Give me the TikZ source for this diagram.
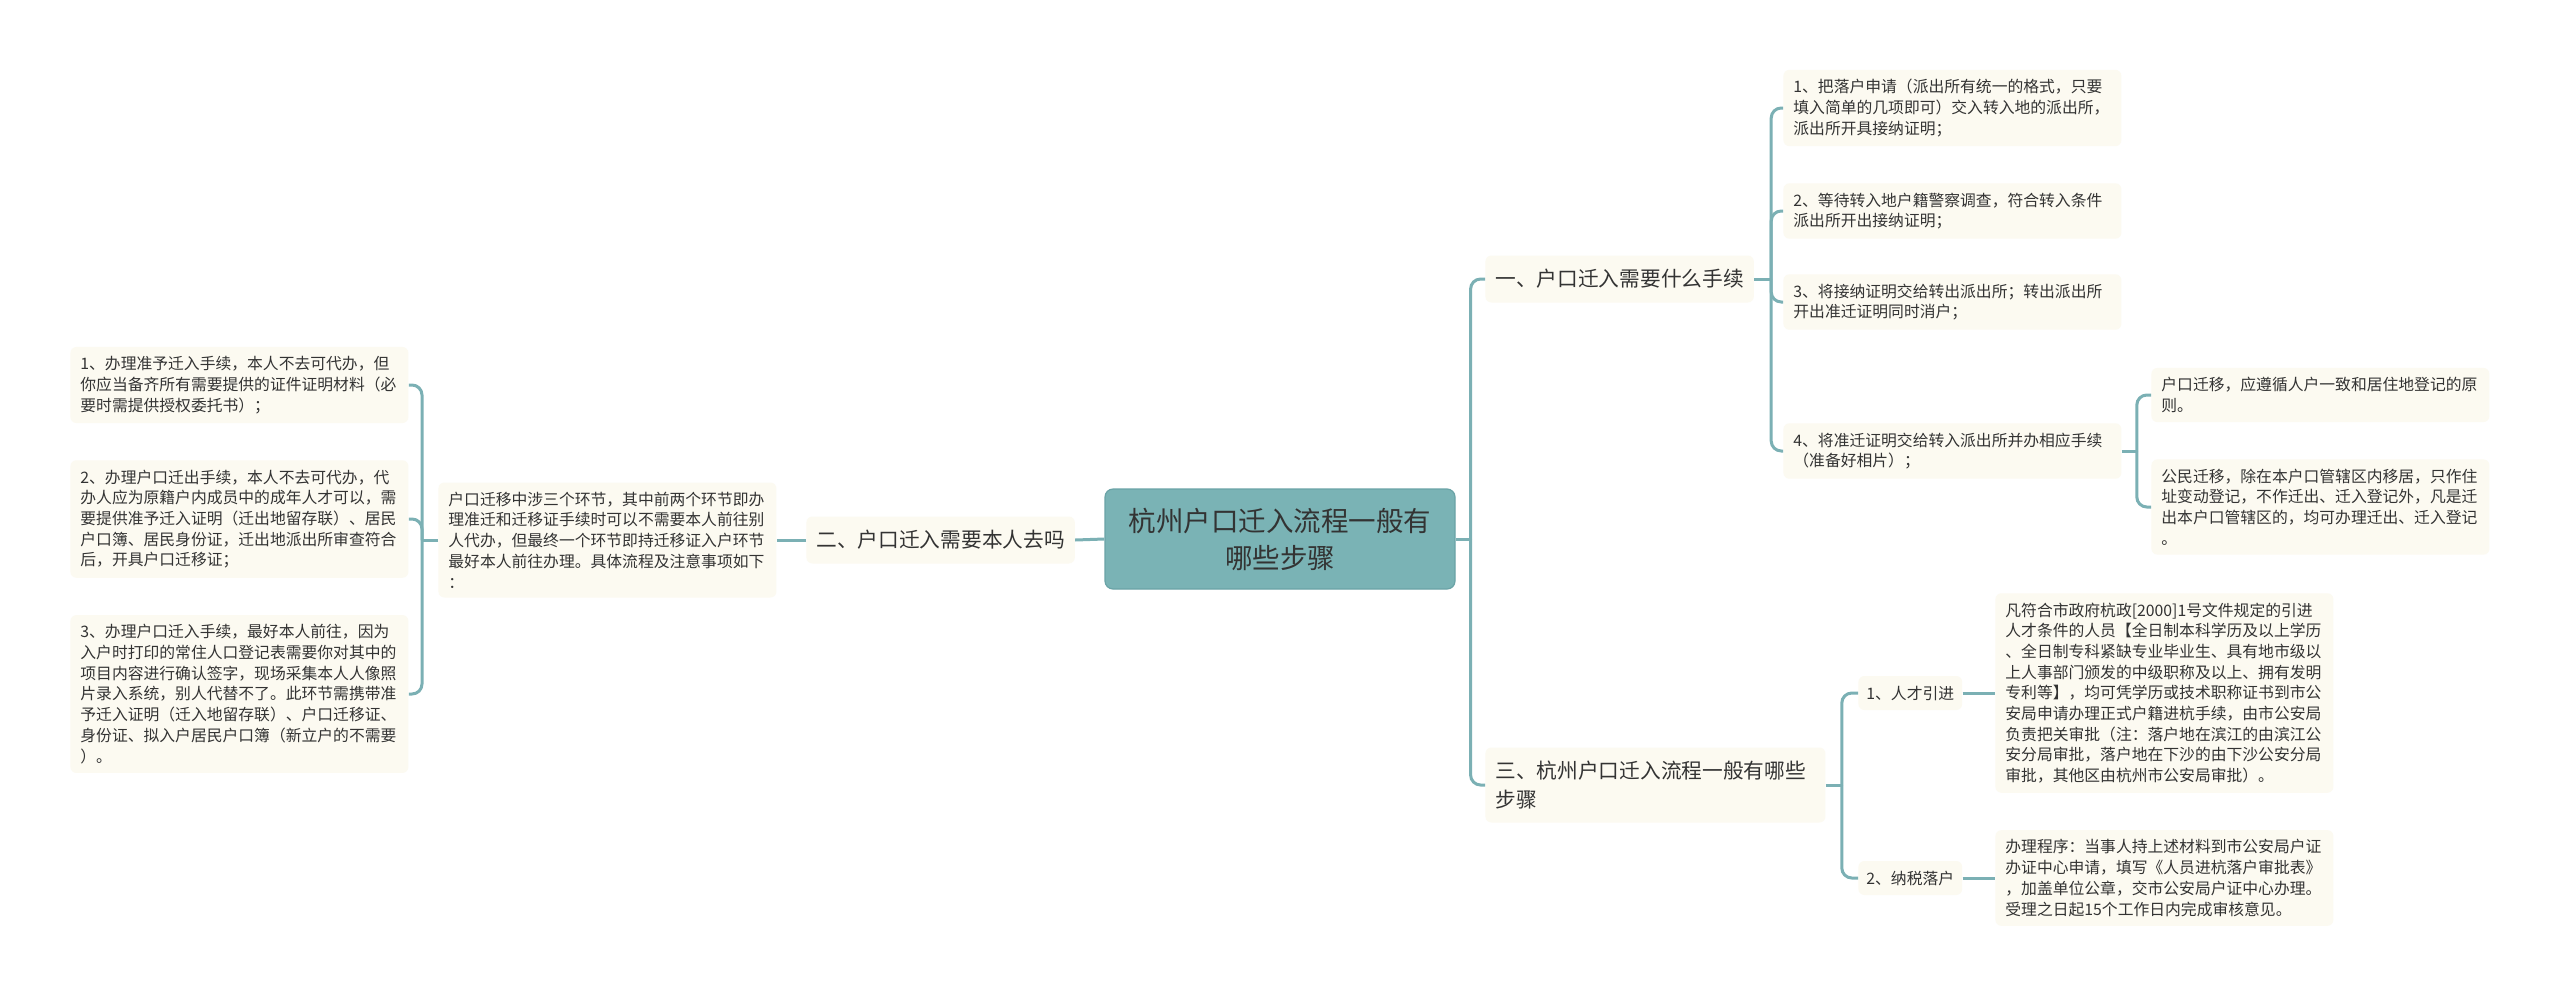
\documentclass[tikz,border=0pt]{standalone}
\usepackage{fontspec}
\setmainfont{Noto Sans CJK SC}
\usetikzlibrary{positioning}
\definecolor{Ink}{HTML}{333333}
\definecolor{Teal}{HTML}{7BB0B4}
\definecolor{RootFill}{HTML}{7AB3B5}
\definecolor{RootLine}{HTML}{6AA3A6}
\definecolor{Cream}{HTML}{FCFAF1}

\begin{document}
\begin{tikzpicture}[
  x=0.5pt, y=-0.5pt,
  leaf/.style={fill=Cream, rounded corners=3pt, anchor=west, text=Ink, inner xsep=5pt, inner ysep=4.7pt, text width=159pt, align=left, font=\fontsize{7.9pt}{10.35pt}\selectfont},
  tag/.style={fill=Cream, rounded corners=3pt, anchor=west, text=Ink, inner xsep=4pt, minimum height=17pt, font=\fontsize{7.9pt}{10.35pt}\selectfont},
  branch/.style={fill=Cream, rounded corners=3pt, anchor=west, text=Ink, inner xsep=5pt, inner ysep=5pt, minimum height=23.5pt, align=left, font=\fontsize{10.35pt}{14.5pt}\selectfont},
  root/.style={fill=RootFill, draw=RootLine, line width=0.6pt, rounded corners=4pt, text=Ink, minimum width=175pt, minimum height=50pt, align=center, font=\fontsize{13.75pt}{18.5pt}\selectfont},
  link/.style={draw=Teal, line width=1.5pt, rounded corners=5pt}
]
\path[fill=white, use as bounding box] (0,0) rectangle (2560,997);

\node[root] (root) at (1280,539) {杭州户口迁入流程一般有\\哪些步骤};

% left side
\node[branch] (b2) at (806,540) {二、户口迁入需要本人去吗};
\node[leaf] (p) at (438,540) {户口迁移中涉三个环节，其中前两个环节即办\\理准迁和迁移证手续时可以不需要本人前往别\\人代办，但最终一个环节即持迁移证入户环节\\最好本人前往办理。具体流程及注意事项如下\\：};
\node[leaf] (l1) at (70,385) {1、办理准予迁入手续，本人不去可代办，但\\你应当备齐所有需要提供的证件证明材料（必\\要时需提供授权委托书）；};
\node[leaf] (l2) at (70,519) {2、办理户口迁出手续，本人不去可代办，代\\办人应为原籍户内成员中的成年人才可以，需\\要提供准予迁入证明（迁出地留存联）、居民\\户口簿、居民身份证，迁出地派出所审查符合\\后，开具户口迁移证；};
\node[leaf] (l3) at (70,694) {3、办理户口迁入手续，最好本人前往，因为\\入户时打印的常住人口登记表需要你对其中的\\项目内容进行确认签字，现场采集本人人像照\\片录入系统，别人代替不了。此环节需携带准\\予迁入证明（迁入地留存联）、户口迁移证、\\身份证、拟入户居民户口簿（新立户的不需要\\）。};

% right side
\node[branch] (b1) at (1485,279) {一、户口迁入需要什么手续};
\node[leaf] (c1) at (1783,108) {1、把落户申请（派出所有统一的格式，只要\\填入简单的几项即可）交入转入地的派出所，\\派出所开具接纳证明；};
\node[leaf] (c2) at (1783,211) {2、等待转入地户籍警察调查，符合转入条件\\派出所开出接纳证明；};
\node[leaf] (c3) at (1783,302) {3、将接纳证明交给转出派出所；转出派出所\\开出准迁证明同时消户；};
\node[leaf] (c4) at (1783,451) {4、将准迁证明交给转入派出所并办相应手续\\（准备好相片）；};
\node[leaf] (c4a) at (2151,395) {户口迁移，应遵循人户一致和居住地登记的原\\则。};
\node[leaf] (c4b) at (2151,507) {公民迁移，除在本户口管辖区内移居，只作住\\址变动登记，不作迁出、迁入登记外，凡是迁\\出本户口管辖区的，均可办理迁出、迁入登记\\。};

\node[branch, text width=160pt, minimum height=37.5pt] (b3) at (1485,785) {三、杭州户口迁入流程一般有哪些\\步骤};
\node[tag] (d1) at (1858,693) {1、人才引进};
\node[tag] (d2) at (1858,878) {2、纳税落户};
\node[leaf] (e1) at (1995,693) {凡符合市政府杭政[2000]1号文件规定的引进\\人才条件的人员【全日制本科学历及以上学历\\、全日制专科紧缺专业毕业生、具有地市级以\\上人事部门颁发的中级职称及以上、拥有发明\\专利等】，均可凭学历或技术职称证书到市公\\安局申请办理正式户籍进杭手续，由市公安局\\负责把关审批（注：落户地在滨江的由滨江公\\安分局审批，落户地在下沙的由下沙公安分局\\审批，其他区由杭州市公安局审批）。};
\node[leaf] (e2) at (1995,878) {办理程序：当事人持上述材料到市公安局户证\\办证中心申请，填写《人员进杭落户审批表》\\，加盖单位公章，交市公安局户证中心办理。\\受理之日起15个工作日内完成审核意见。};

% junctions
\coordinate (jR) at ([xshift=7.5pt]root.east);
\coordinate (jL) at ([xshift=-8pt]p.west);
\coordinate (jB1) at ([xshift=8.5pt]b1.east);
\coordinate (jC4) at ([xshift=7.5pt]c4.east);
\coordinate (jB3) at ([xshift=8pt]b3.east);

\draw[link] (root.west) -- (b2.east);
\draw[link] (b2.west) -- (p.east);
\draw[link] (p.west) -- (jL);
\draw[link] (jL) |- (l1.east);
\draw[link] (jL) |- (l2.east);
\draw[link] (jL) |- (l3.east);

\draw[link] (root.east) -- (jR);
\draw[link] (jR) |- (b1.west);
\draw[link] (jR) |- (b3.west);

\draw[link] (b1.east) -- (jB1);
\draw[link] (jB1) |- (c1.west);
\draw[link] (jB1) |- (c2.west);
\draw[link] (jB1) |- (c3.west);
\draw[link] (jB1) |- (c4.west);

\draw[link] (c4.east) -- (jC4);
\draw[link] (jC4) |- (c4a.west);
\draw[link] (jC4) |- (c4b.west);

\draw[link] (b3.east) -- (jB3);
\draw[link] (jB3) |- (d1.west);
\draw[link] (jB3) |- (d2.west);
\draw[link] (d1.east) -- (e1.west);
\draw[link] (d2.east) -- (e2.west);
\end{tikzpicture}
\end{document}
